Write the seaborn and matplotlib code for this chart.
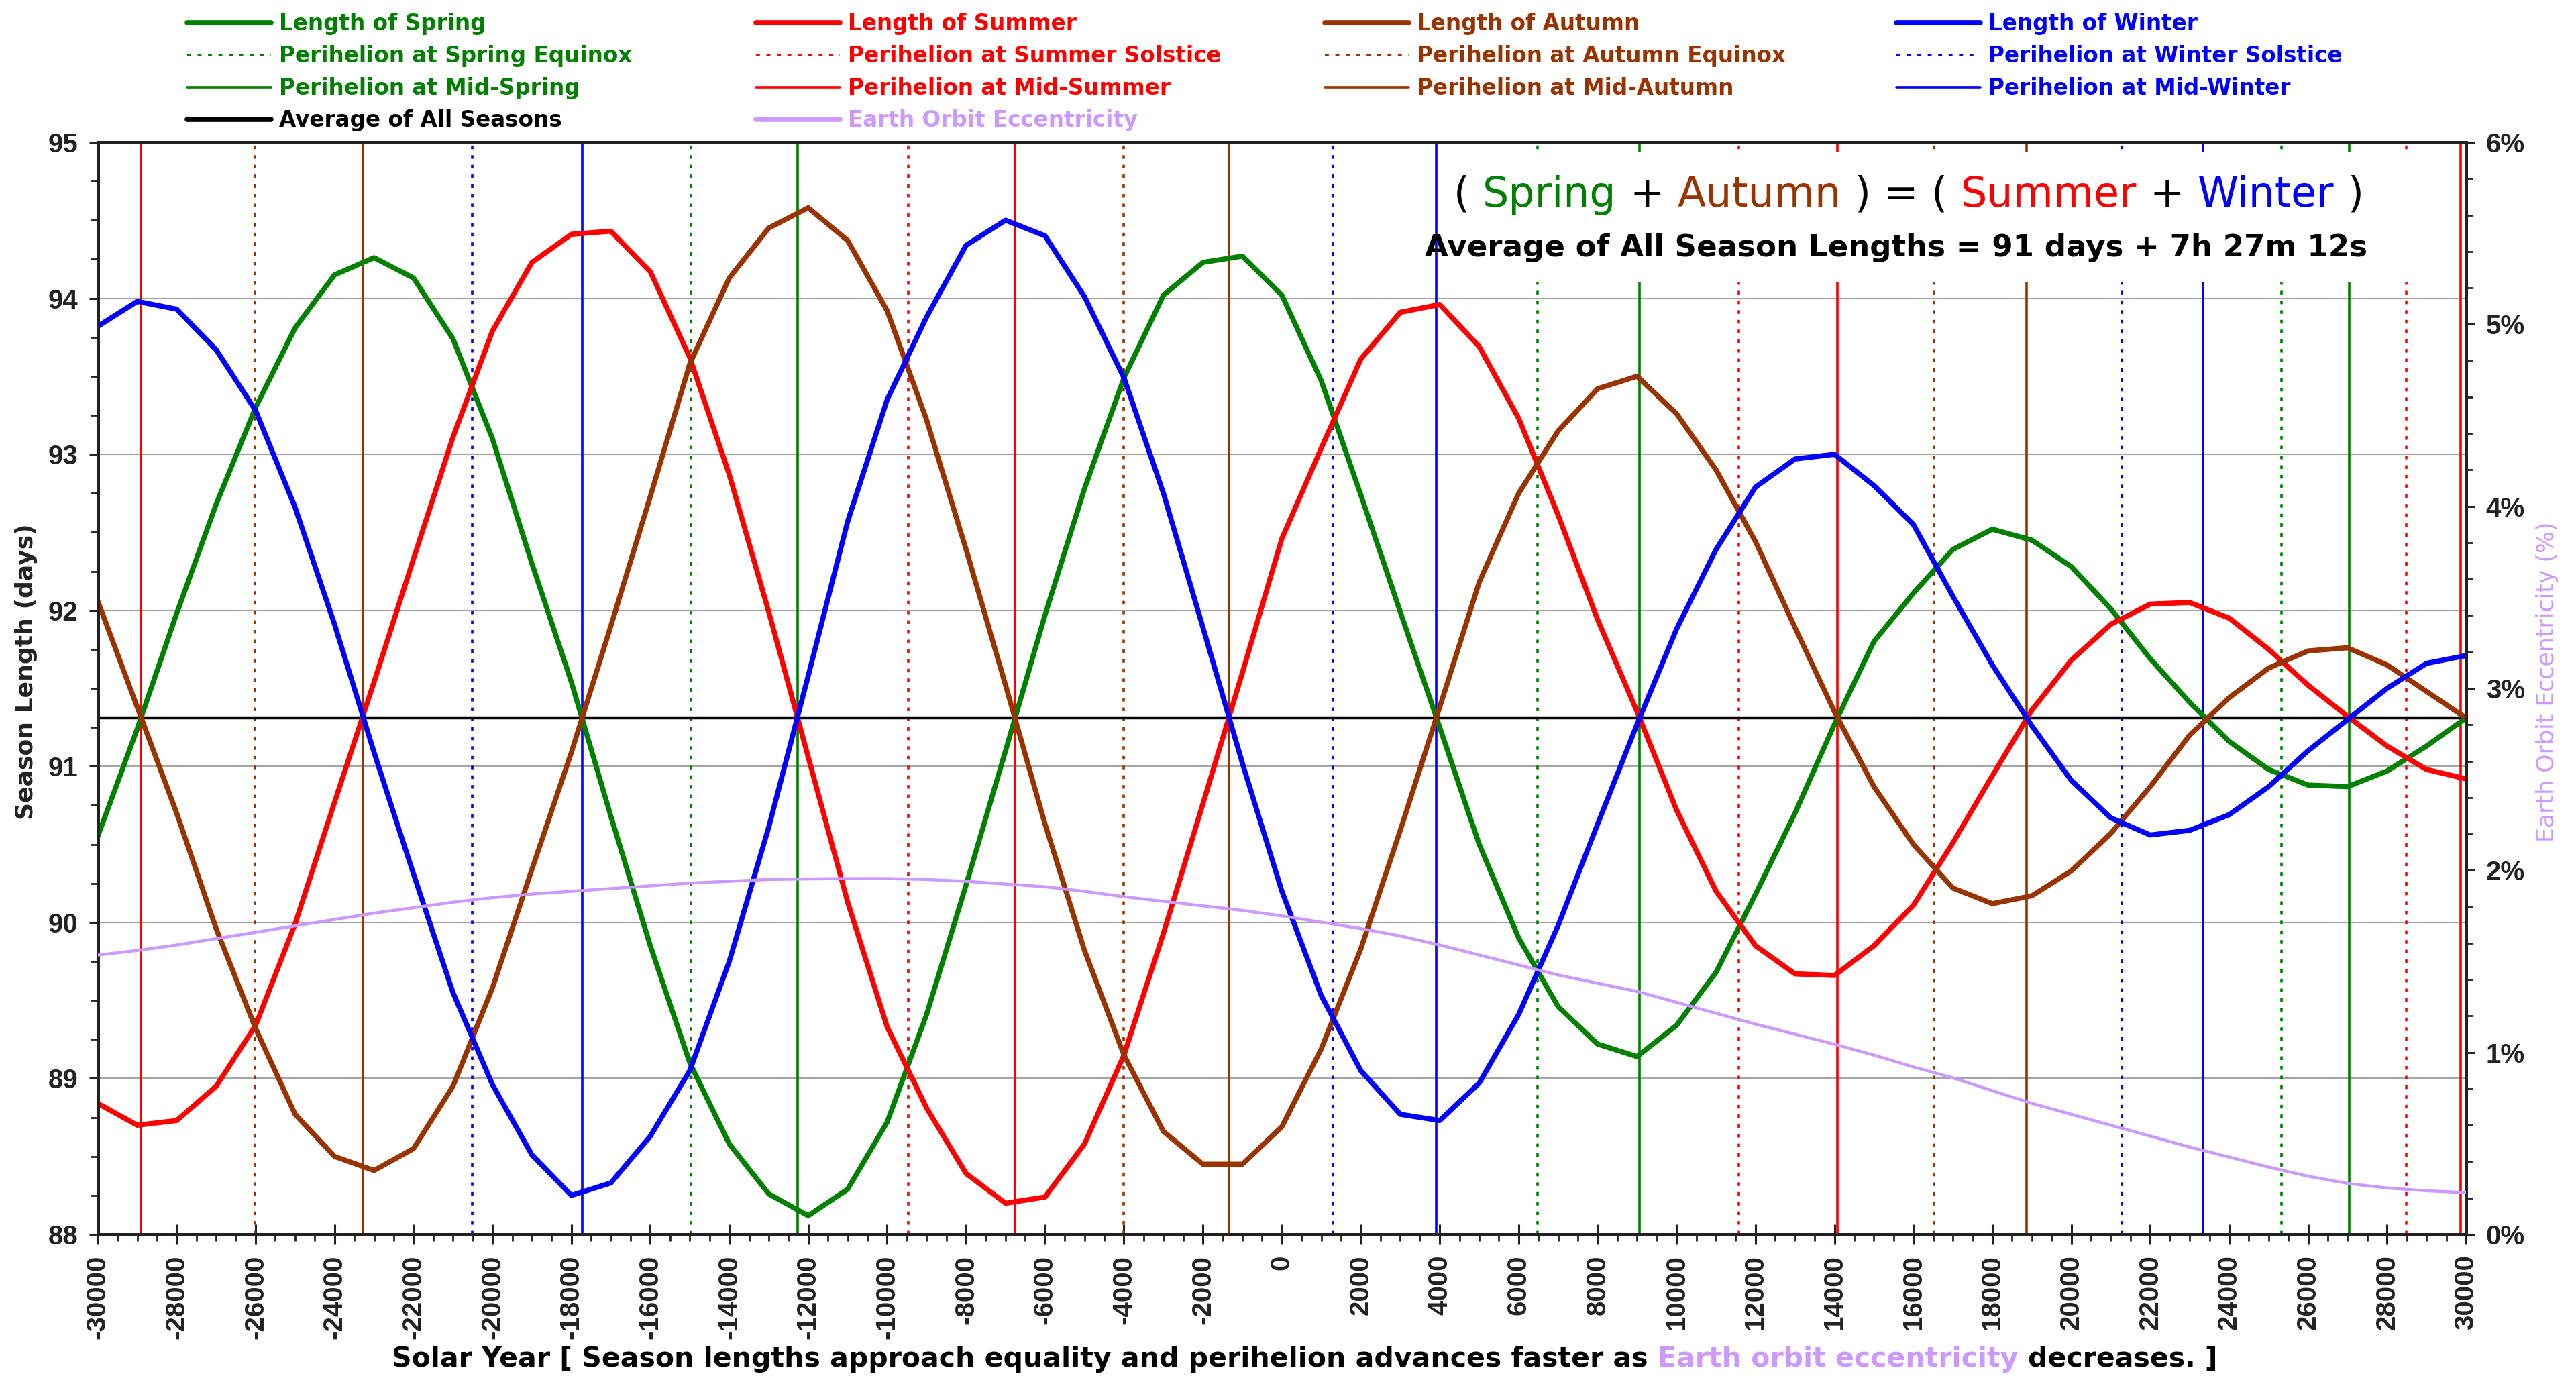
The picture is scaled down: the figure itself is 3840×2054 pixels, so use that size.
import matplotlib
matplotlib.use("Agg")
import matplotlib.pyplot as plt
from matplotlib.lines import Line2D
from matplotlib.patches import Rectangle
import pandas as pd
import seaborn as sns

# ---------------------------------------------------------------- data
years = list(range(-30000, 30001, 1000))

spring = [90.55, 91.24, 91.98, 92.68, 93.30, 93.81, 94.15, 94.26, 94.13, 93.74,
          93.10, 92.30, 91.54, 90.68, 89.85, 89.10, 88.58, 88.26, 88.12, 88.29,
          88.72, 89.41, 90.24, 91.10, 91.97, 92.78, 93.49, 94.02, 94.23, 94.27,
          94.02, 93.47, 92.74, 91.99, 91.25, 90.50, 89.90, 89.46, 89.22, 89.14,
          89.34, 89.68, 90.18, 90.70, 91.27, 91.80, 92.11, 92.39, 92.52, 92.45,
          92.28, 92.01, 91.69, 91.41, 91.16, 90.98, 90.88, 90.87, 90.97, 91.13,
          91.31]

summer = [88.84, 88.70, 88.73, 88.95, 89.34, 89.99, 90.77, 91.54, 92.33, 93.11,
          93.79, 94.23, 94.41, 94.43, 94.17, 93.62, 92.87, 91.99, 91.06, 90.13,
          89.33, 88.81, 88.39, 88.20, 88.24, 88.58, 89.15, 89.93, 90.76, 91.60,
          92.46, 93.04, 93.61, 93.91, 93.96, 93.69, 93.23, 92.61, 91.94, 91.35,
          90.72, 90.20, 89.85, 89.67, 89.66, 89.85, 90.11, 90.51, 90.94, 91.36,
          91.68, 91.91, 92.04, 92.05, 91.95, 91.75, 91.52, 91.32, 91.13, 90.98,
          90.92]

autumn = [92.06, 91.38, 90.70, 89.96, 89.32, 88.77, 88.50, 88.41, 88.55, 88.95,
          89.58, 90.34, 91.09, 91.90, 92.73, 93.58, 94.13, 94.45, 94.58, 94.37,
          93.92, 93.22, 92.39, 91.52, 90.63, 89.82, 89.15, 88.66, 88.45, 88.45,
          88.69, 89.19, 89.83, 90.59, 91.38, 92.18, 92.75, 93.15, 93.42, 93.50,
          93.26, 92.90, 92.44, 91.89, 91.35, 90.87, 90.50, 90.22, 90.12, 90.17,
          90.33, 90.57, 90.87, 91.20, 91.44, 91.63, 91.74, 91.76, 91.65, 91.48,
          91.31]

winter = [93.82, 93.98, 93.93, 93.67, 93.28, 92.66, 91.91, 91.09, 90.31, 89.55,
          88.96, 88.51, 88.25, 88.33, 88.63, 89.05, 89.75, 90.61, 91.58, 92.57,
          93.35, 93.88, 94.34, 94.50, 94.40, 94.01, 93.49, 92.75, 91.89, 91.02,
          90.20, 89.53, 89.05, 88.77, 88.73, 88.97, 89.41, 89.98, 90.63, 91.27,
          91.88, 92.39, 92.79, 92.97, 93.00, 92.80, 92.55, 92.09, 91.65, 91.26,
          90.91, 90.67, 90.56, 90.59, 90.69, 90.87, 91.10, 91.30, 91.50, 91.66,
          91.71]

# Earth orbit eccentricity in percent
eccentricity = [1.535, 1.56, 1.59, 1.625, 1.66, 1.695, 1.73, 1.765, 1.795, 1.825,
                1.85, 1.87, 1.885, 1.90, 1.915, 1.93, 1.94, 1.95, 1.953, 1.955,
                1.955, 1.95, 1.94, 1.925, 1.91, 1.885, 1.855, 1.83, 1.805, 1.78,
                1.75, 1.715, 1.68, 1.64, 1.59, 1.535, 1.48, 1.425, 1.38, 1.335,
                1.275, 1.215, 1.155, 1.10, 1.045, 0.985, 0.92, 0.86, 0.79, 0.72,
                0.66, 0.60, 0.54, 0.48, 0.425, 0.37, 0.32, 0.28, 0.255, 0.24,
                0.23]

# 91 days + 7h 27m 12s
average_days = 91 + (7 * 3600 + 27 * 60 + 12) / 86400

# years at which perihelion coincides with each seasonal point
perihelion_spring_equinox = [-14975, 6475, 25320]
perihelion_summer_solstice = [-9470, 11570, 28480]
perihelion_autumn_equinox = [-26015, -4005, 16520]
perihelion_winter_solstice = [-20510, 1300, 21275]
perihelion_mid_spring = [-12270, 9060, 27040]
perihelion_mid_summer = [-28900, -6770, 14070, 29870]
perihelion_mid_autumn = [-23280, -1340, 18860]
perihelion_mid_winter = [-17720, 3915, 23340]

year_ticks = list(range(-30000, 30001, 2000))
day_ticks = list(range(88, 96))
ecc_ticks = list(range(0, 7))

# ---------------------------------------------------------------- style
SPRING, SUMMER, AUTUMN, WINTER = "#008000", "#FF0000", "#993300", "#0000FF"
ECC = "#CC99FF"
INK = "#222222"

sns.set_style("white")
plt.rcParams["font.family"] = ["DejaVu Sans"]
plt.rcParams["axes.unicode_minus"] = False

W, H = 3841, 2054
fig = plt.figure(figsize=(W / 100, H / 100), dpi=100)
x_left, x_right, y_top, y_bottom = 145.7, 3676.0, 212.0, 1840.0
ax = fig.add_axes([x_left / W, 1 - y_bottom / H,
                   (x_right - x_left) / W, (y_bottom - y_top) / H])

# ---------------------------------------------------------------- season curves
seasons = pd.DataFrame({"year": years, "Spring": spring, "Summer": summer,
                        "Autumn": autumn, "Winter": winter})
long = seasons.melt(id_vars="year", var_name="season", value_name="days")
sns.lineplot(data=long, x="year", y="days", hue="season",
             hue_order=["Spring", "Summer", "Autumn", "Winter"],
             palette={"Spring": SPRING, "Summer": SUMMER,
                      "Autumn": AUTUMN, "Winter": WINTER},
             linewidth=5.5, legend=False, estimator=None, sort=False,
             ax=ax, zorder=3)

ax.axhline(average_days, color="black", lw=3.2, zorder=2.6)

DOT = (0, (1.5, 2.5))
marker_groups = [
    (perihelion_spring_equinox, SPRING, DOT),
    (perihelion_summer_solstice, SUMMER, DOT),
    (perihelion_autumn_equinox, AUTUMN, DOT),
    (perihelion_winter_solstice, WINTER, DOT),
    (perihelion_mid_spring, SPRING, "-"),
    (perihelion_mid_summer, SUMMER, "-"),
    (perihelion_mid_autumn, AUTUMN, "-"),
    (perihelion_mid_winter, WINTER, "-"),
]
for yrs, col, ls in marker_groups:
    for yr in yrs:
        ax.axvline(yr, color=col, ls=ls, lw=2.6, zorder=1.5)

# white panel behind the annotation text
ax.add_patch(Rectangle((0.5677, 0.8716), 0.4122, 0.1198, transform=ax.transAxes,
                       facecolor="white", edgecolor="none", zorder=2))

ax.set_xlim(-30000, 30000)
ax.set_ylim(88, 95)
ax.yaxis.grid(True, which="major", color="#A6A6A6", lw=1.6, zorder=0.5)
ax.xaxis.grid(False)
ax.set_axisbelow(True)

tick_font = {"family": "Liberation Sans", "weight": "bold", "size": 29}
ax.set_xticks(year_ticks)
ax.set_xticklabels([str(v) for v in year_ticks], fontdict=tick_font, rotation=90)
ax.set_xticks(list(range(-30000, 30001, 500)), minor=True)
ax.set_yticks(day_ticks)
ax.set_yticklabels([str(v) for v in day_ticks], fontdict=tick_font)
ax.set_yticks([88 + 0.25 * i for i in range(29)], minor=True)

ax.tick_params(axis="x", which="major", bottom=True, top=False, direction="inout",
               length=22, width=2.2, pad=11, colors=INK)
ax.tick_params(axis="x", which="minor", bottom=True, top=False, direction="out",
               length=7, width=2.0, colors=INK)
ax.tick_params(axis="y", which="major", left=True, right=False, direction="out",
               length=9.5, width=2.2, pad=11.5, colors=INK)
ax.tick_params(axis="y", which="minor", left=True, right=False, direction="out",
               length=8, width=2.0, colors=INK)

ax.set_xlabel("")
ax.set_ylabel("Season Length (days)", fontsize=26, fontweight="bold", color=INK)
ax.yaxis.set_label_coords(-0.0302, 0.515)
ax.yaxis.label.set_va("center")
ax.yaxis.label.set_ha("center")

for sp in ax.spines.values():
    sp.set_visible(True)
    sp.set_color(INK)
    sp.set_linewidth(3.5)

# ---------------------------------------------------------------- eccentricity axis
ax2 = ax.twinx()
sns.lineplot(x=years, y=eccentricity, ax=ax2, color=ECC, linewidth=3.2, zorder=3)
ax2.set_xlim(-30000, 30000)
ax2.set_ylim(0, 6)
ax2.set_yticks(ecc_ticks)
ax2.set_yticklabels([f"{v}%" for v in ecc_ticks], fontdict=tick_font)
ax2.set_yticks([0.2 * i for i in range(31)], minor=True)
ax2.tick_params(axis="y", which="major", right=True, left=False, direction="out",
                length=9.5, width=2.2, pad=12, colors=INK)
ax2.tick_params(axis="y", which="minor", right=True, left=False, direction="out",
                length=7, width=2.0, colors=INK)
ax2.set_xlabel("")
ax2.set_ylabel("Earth Orbit Eccentricity (%)", fontsize=25, color=ECC)
ax2.yaxis.set_label_coords(1.0343, 0.5061)
ax2.yaxis.label.set_va("center")
ax2.yaxis.label.set_ha("center")
for sp in ax2.spines.values():
    sp.set_color(INK)
    sp.set_linewidth(3.5)

# ---------------------------------------------------------------- legend (4 columns)
THICK = dict(lw=5.5, ls="-")
DOTTED = dict(lw=2.8, ls=DOT)
THIN = dict(lw=2.6, ls="-")
legend_columns = [
    [("Length of Spring", SPRING, THICK), ("Perihelion at Spring Equinox", SPRING, DOTTED),
     ("Perihelion at Mid-Spring", SPRING, THIN), ("Average of All Seasons", "black", THICK)],
    [("Length of Summer", SUMMER, THICK), ("Perihelion at Summer Solstice", SUMMER, DOTTED),
     ("Perihelion at Mid-Summer", SUMMER, THIN), ("Earth Orbit Eccentricity", ECC, THICK)],
    [("Length of Autumn", AUTUMN, THICK), ("Perihelion at Autumn Equinox", AUTUMN, DOTTED),
     ("Perihelion at Mid-Autumn", AUTUMN, THIN)],
    [("Length of Winter", WINTER, THICK), ("Perihelion at Winter Solstice", WINTER, DOTTED),
     ("Perihelion at Mid-Winter", WINTER, THIN)],
]
column_x = [279, 1127, 1975, 2827]
for entries, cx in zip(legend_columns, column_x):
    handles = [Line2D([], [], color=c, **st) for _, c, st in entries]
    leg = fig.legend(handles, [t for t, _, _ in entries], loc="upper left",
                     bbox_to_anchor=(cx / W, 1 - 19 / H), frameon=False,
                     borderpad=0, borderaxespad=0, handlelength=3.83,
                     handletextpad=0.37, labelspacing=0.46,
                     prop={"family": "DejaVu Sans", "weight": "bold", "size": 23.5})
    for txt, (_, c, _) in zip(leg.get_texts(), entries):
        txt.set_color(c)

# ---------------------------------------------------------------- multi-coloured text lines
renderer = fig.canvas.get_renderer()


def text_width(s, **kw):
    t = fig.text(0, 0, s, **kw)
    w = t.get_window_extent(renderer).width
    t.remove()
    return w


def coloured_line(tokens, x_center_px, baseline_px, **kw):
    space = text_width("| |", **kw) - text_width("||", **kw)
    widths = [text_width(s, **kw) for s, _ in tokens]
    total = sum(widths) + space * (len(tokens) - 1)
    x = x_center_px - total / 2
    for (s, c), w in zip(tokens, widths):
        fig.text(x / W, 1 - baseline_px / H, s, color=c, ha="left",
                 va="baseline", zorder=5, **kw)
        x += w + space


coloured_line([("(", "black"), ("Spring", SPRING), ("+", "black"), ("Autumn", AUTUMN),
               (")", "black"), ("=", "black"), ("(", "black"), ("Summer", SUMMER),
               ("+", "black"), ("Winter", WINTER), (")", "black")],
              2845, 308, fontsize=44.5, family="DejaVu Sans")

fig.text(2826 / W, 1 - 382 / H, "Average of All Season Lengths = 91 days + 7h 27m 12s",
         ha="center", va="baseline", fontsize=32.5, fontweight="bold",
         family="DejaVu Sans", color="black", zorder=5)

coloured_line([("Solar Year [ Season lengths approach equality and perihelion "
                "advances faster as", "black"),
               ("Earth orbit eccentricity", ECC),
               ("decreases. ]", "black")],
              1945, 2037, fontsize=29.5, fontweight="bold", family="DejaVu Sans")

fig.savefig("out.png", dpi=100, facecolor="white")
